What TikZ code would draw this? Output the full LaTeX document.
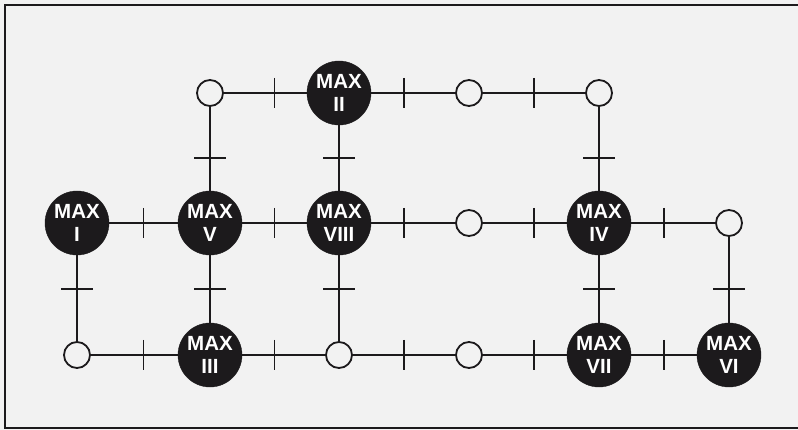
\documentclass[tikz,border=0pt]{standalone}
\usepackage{fontspec}
\setmainfont{Liberation Sans}
\usetikzlibrary{calc}
\definecolor{bgc}{RGB}{242,242,242}
\definecolor{ink}{RGB}{28,26,28}
\newcommand{\hlnk}[2]{\draw[link] (#1) -- (#2);
  \draw[link] ($(#1)!0.5!(#2)+(0,-15)$) -- ($(#1)!0.5!(#2)+(0,15)$);}
\newcommand{\vlnk}[2]{\draw[link] (#1) -- (#2);
  \draw[link] ($(#1)!0.5!(#2)+(-16,0)$) -- ($(#1)!0.5!(#2)+(16,0)$);}
\begin{document}
\begin{tikzpicture}[x=1pt,y=-1pt,
  maxnode/.style={circle,fill=ink,draw=ink,minimum size=64pt,inner sep=0pt,
    text=white,font=\fontsize{20.5}{22.5}\selectfont\bfseries,align=center},
  junc/.style={circle,draw=ink,fill=bgc,line width=1.8pt,minimum size=26pt,inner sep=0pt},
  link/.style={draw=ink,line width=1.8pt}]
\useasboundingbox (0,0) rectangle (798,430);
\fill[bgc] (0,0) rectangle (798,430);
\draw[ink,line width=1.8pt] (800,5) -- (5,5) -- (5,428) -- (800,428);
% top row
\node[junc] (c1) at (210,93) {};
\node[maxnode] (m2) at (339,93) {MAX\\II};
\node[junc] (c2) at (469,93) {};
\node[junc] (c3) at (599,93) {};
% middle row
\node[maxnode] (m1) at (77,223) {MAX\\I};
\node[maxnode] (m5) at (210,223) {MAX\\V};
\node[maxnode] (m8) at (339,223) {MAX\\VIII};
\node[junc] (c4) at (469,223) {};
\node[maxnode] (m4) at (599,223) {MAX\\IV};
\node[junc] (c5) at (729,223) {};
% bottom row
\node[junc] (c6) at (77,355) {};
\node[maxnode] (m3) at (210,355) {MAX\\III};
\node[junc] (c7) at (339,355) {};
\node[junc] (c8) at (469,355) {};
\node[maxnode] (m7) at (599,355) {MAX\\VII};
\node[maxnode] (m6) at (729,355) {MAX\\VI};
% horizontal links
\hlnk{c1}{m2}
\hlnk{m2}{c2}
\hlnk{c2}{c3}
\hlnk{m1}{m5}
\hlnk{m5}{m8}
\hlnk{m8}{c4}
\hlnk{c4}{m4}
\hlnk{m4}{c5}
\hlnk{c6}{m3}
\hlnk{m3}{c7}
\hlnk{c7}{c8}
\hlnk{c8}{m7}
\hlnk{m7}{m6}
% vertical links
\vlnk{c1}{m5}
\vlnk{m2}{m8}
\vlnk{c3}{m4}
\vlnk{m1}{c6}
\vlnk{m5}{m3}
\vlnk{m8}{c7}
\vlnk{m4}{m7}
\vlnk{c5}{m6}
\end{tikzpicture}
\end{document}
